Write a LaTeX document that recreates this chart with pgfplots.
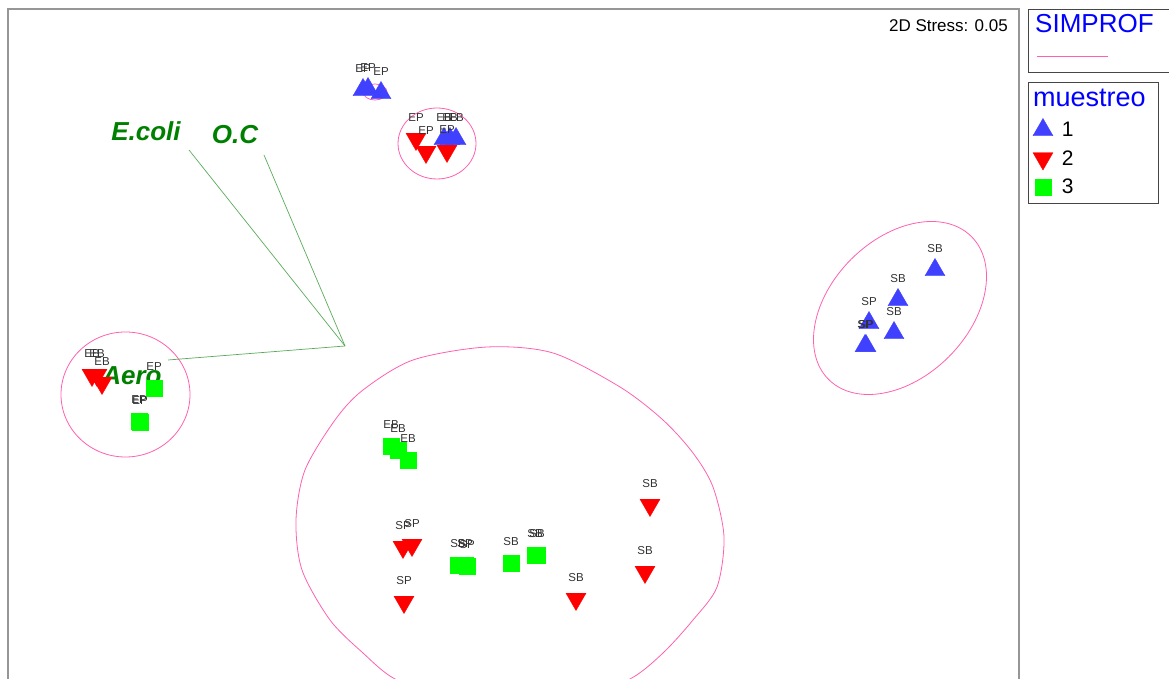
\documentclass[border=0pt]{standalone}
\usepackage{pgfplots}
\pgfplotsset{compat=1.18}
\usepackage{fontspec}
\setmainfont{Liberation Sans}

\definecolor{grpone}{RGB}{64,64,255}
\definecolor{grptwo}{RGB}{255,0,0}
\definecolor{grpthree}{RGB}{0,255,0}
\definecolor{simprof}{RGB}{255,96,176}
\definecolor{vecline}{RGB}{90,170,90}
\definecolor{vectext}{RGB}{0,128,0}
\definecolor{lbl}{RGB}{50,50,50}
\definecolor{framegray}{RGB}{150,150,150}
\definecolor{boxgray}{RGB}{70,70,70}

% nMDS coordinates of the samples, with their labels
\pgfplotstableread{
x y label
363 589 EP
368 590 EP
381 586 EP
444 540 EB
450 540 EB
456 540 EB
935 409 SB
898 379 SB
869 356 SP
894 346 SB
865 333 SP
866 333 SP
}\muestreoA
\pgfplotstableread{
x y label
416 540 EP
426 527 EP
447 528 EP
92 304 EB
97 304 EB
102 296 EB
403 132 SP
412 134 SP
404 77 SP
650 174 SB
645 107 SB
576 80 SB
}\muestreoB
\pgfplotstableread{
x y label
154 291 EP
139 258 EP
140 257 EP
391 233 EB
398 229 EB
408 219 EB
458 114 SB
465 114 SP
467 113 SP
511 116 SB
535 124 SB
537 124 SB
}\muestreoC

\begin{document}
\begin{tikzpicture}[x=1pt,y=1pt]
\useasboundingbox (0,0) rectangle (1169,679);
\begin{axis}[
  at={(8pt,-30pt)}, anchor=south west,
  x=1pt, y=1pt,
  xmin=8, xmax=1019, ymin=-30, ymax=670,
  xtick=\empty, ytick=\empty,
  axis line style={draw=framegray, line width=1.5pt},
  legend style={at={(axis description cs:1.01385,0.8436)}, anchor=north west,
    draw=none, fill=none, inner sep=0pt, outer sep=0pt,
    row sep={28.5pt,between origins}, column sep={28.5pt,between origins},
    nodes={inner sep=0pt, font=\fontsize{21}{21}\selectfont}},
  legend cell align=left,
  legend image code/.code={\draw[mark repeat=2,mark phase=2,#1]
    plot coordinates {(0pt,0pt) (9.5pt,0pt) (19pt,0pt)};},
  sample/.style={only marks, forget plot, nodes near coords, point meta=explicit symbolic,
    every node near coord/.append style={anchor=center, yshift=21pt,
      font=\fontsize{11.5}{12}\selectfont, text=lbl, inner sep=0pt}},
  grp1/.style={color=grpone, mark=triangle*, mark size=11.5pt,
    mark options={solid, fill=grpone, draw=grpone}},
  grp2/.style={color=grptwo, mark=triangle*, mark size=11.5pt,
    mark options={solid, fill=grptwo, draw=grptwo, rotate=180}},
  grp3/.style={color=grpthree, mark=square*, mark size=8pt,
    mark options={solid, fill=grpthree, draw=grpthree}},
]
% SIMPROF groups
\draw[simprof, line width=0.8pt] (axis cs:375,587) ellipse [x radius=12pt, y radius=8pt];
\draw[simprof, line width=0.8pt] (axis cs:437,535.5) ellipse [x radius=39pt, y radius=35.5pt];
\draw[simprof, line width=0.8pt] (axis cs:125.5,284.5) ellipse [x radius=64.5pt, y radius=62.5pt];
\draw[simprof, line width=0.8pt] (axis cs:900,371) ellipse [x radius=101pt, y radius=69pt, rotate=45];
\draw[simprof, line width=0.8pt] plot[smooth cycle, tension=0.5] coordinates {
  (axis cs:487,332) (axis cs:413,319) (axis cs:363,289) (axis cs:335,259)
  (axis cs:305,209) (axis cs:296,159) (axis cs:302,109) (axis cs:330,59)
  (axis cs:363,26) (axis cs:395,0) (axis cs:450,-20) (axis cs:512,-28)
  (axis cs:575,-20) (axis cs:630,0) (axis cs:663,26) (axis cs:693,59)
  (axis cs:717,92) (axis cs:724,142) (axis cs:713,192) (axis cs:693,226)
  (axis cs:663,259) (axis cs:620,292) (axis cs:553,326)};

% environmental vectors
\addplot[forget plot, no marks, vecline, line width=0.7pt] coordinates {(345,333) (189,529)};
\addplot[forget plot, no marks, vecline, line width=0.7pt] coordinates {(345,333) (264,524)};
\addplot[forget plot, no marks, vecline, line width=0.7pt] coordinates {(345,333) (168,319)};

% samples by muestreo
\addplot[sample, grp1] table[x=x, y=y, meta=label] {\muestreoA};
\addplot[sample, grp2] table[x=x, y=y, meta=label] {\muestreoB};
\addplot[sample, grp3] table[x=x, y=y, meta=label] {\muestreoC};

\addlegendimage{only marks, grp1}
\addlegendentry{1}
\addlegendimage{only marks, grp2}
\addlegendentry{2}
\addlegendimage{only marks, grp3}
\addlegendentry{3}

\node[text=vectext, font=\fontsize{26}{26}\selectfont\bfseries\itshape] at (axis cs:146,548) {E.coli};
\node[text=vectext, font=\fontsize{26}{26}\selectfont\bfseries\itshape] at (axis cs:235,544) {O.C};
\node[text=vectext, font=\fontsize{26}{26}\selectfont\bfseries\itshape] at (axis cs:132,303) {Aero};

\node[anchor=base east, font=\fontsize{17}{17}\selectfont, inner sep=0pt] at (axis cs:1008,647) {2D Stress: 0.05};
\end{axis}

% SIMPROF key
\draw[boxgray, line width=0.8pt] (1028,670) rectangle (1180,607);
\node[anchor=base west, inner sep=0pt, text=blue, font=\fontsize{26}{26}\selectfont] at (1035,646) {SIMPROF};
\draw[simprof, line width=1pt] (1037,622) -- (1108,622);

% group key frame
\draw[boxgray, line width=0.8pt] (1028,597) rectangle (1158,476);
\node[anchor=base west, inner sep=0pt, text=blue, font=\fontsize{27}{27}\selectfont] at (1033,572) {muestreo};
\end{tikzpicture}
\end{document}
